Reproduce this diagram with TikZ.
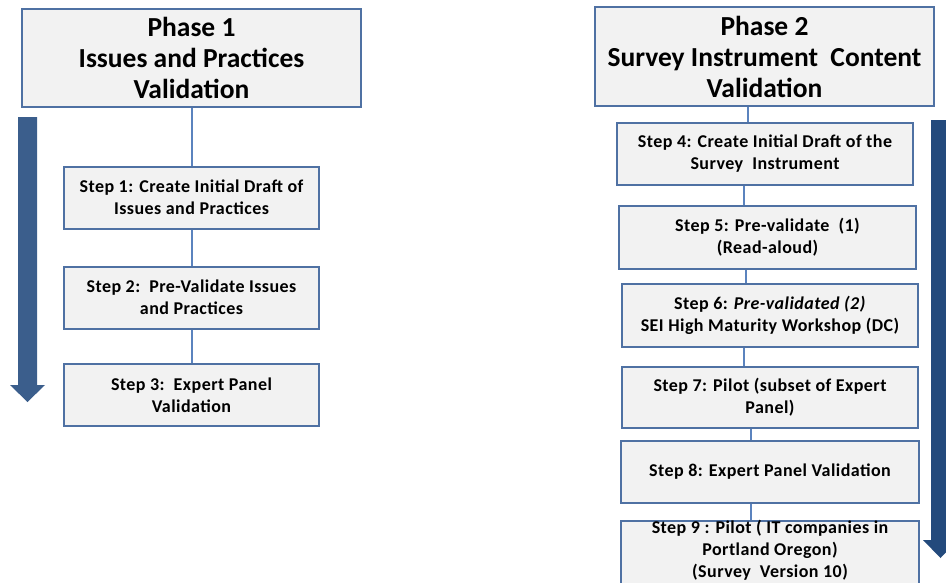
\documentclass[tikz,border=0pt]{standalone}
\usepackage{fontspec}
\setmainfont{Carlito}
\newfontfamily\stepfont[LetterSpace=2.5]{Carlito}
\begin{document}
\begin{tikzpicture}[x=1pt,y=-1pt,
  framecol/.style={draw=boxedge,line width=2pt,fill=boxfill},
  phasebox/.style={framecol,minimum width=339pt,minimum height=98pt,
    align=center,inner sep=0pt,
    font=\fontsize{27.5}{31}\selectfont\bfseries},
  steptext/.style={align=center,inner sep=0pt,
    font=\fontsize{18}{22}\selectfont\bfseries\stepfont},
  stepbox/.style={framecol,minimum height=62pt,steptext},
  link/.style={draw=linkcol,line width=2pt}]
\definecolor{boxedge}{HTML}{4F71A3}
\definecolor{boxfill}{HTML}{F2F2F2}
\definecolor{linkcol}{HTML}{5B83BE}
\definecolor{arrowA}{HTML}{3B5E8C}
\definecolor{arrowB}{HTML}{234A7C}
\useasboundingbox (0,0) rectangle (946,582);
\clip (0,0) rectangle (946,582);

% Phase 1 column
\node[phasebox] (p1) at (191.5,58) {Phase 1\\Issues and Practices\\Validation};
\node[stepbox,minimum width=255pt] (s1) at (191.5,197.5)
  {Step 1: Create Initial Draft of\\Issues and Practices};
\node[stepbox,minimum width=255pt] (s2) at (191.5,297.5)
  {Step 2:\ \ Pre-Validate Issues\\and Practices};
\node[stepbox,minimum width=255pt] (s3) at (191.5,395)
  {Step 3:\ \ Expert Panel\\Validation};
\draw[link] (p1.south) -- (s1.north);
\draw[link] (s1.south) -- (s2.north);
\draw[link] (s2.south) -- (s3.north);

% Phase 1 progress arrow
\fill[arrowA] (18,117) -- (37,117) -- (37,385) -- (45,385) -- (27.5,402)
  -- (10,385) -- (18,385) -- cycle;

% Phase 2 column
\node[phasebox,minimum height=99pt] (p2) at (764.5,56.5)
  {Phase 2\\Survey Instrument\ \ Content\\Validation};
\node[stepbox,minimum width=296pt] (s4) at (765,154)
  {Step 4: Create Initial Draft of the\\Survey\ \ Instrument};
\node[stepbox,minimum width=297pt,minimum height=63pt] (s5) at (767.5,237.5)
  {Step 5: Pre-validate\ \ (1)\\(Read-aloud)};
\node[stepbox,minimum width=296pt,minimum height=63pt] (s6) at (770,315.5)
  {Step 6: \textit{Pre-validated (2)}\\SEI High Maturity Workshop (DC)};
\node[stepbox,minimum width=296pt,minimum height=61pt] (s7) at (770,397.5)
  {Step 7: Pilot (subset of Expert\\Panel)};
\node[stepbox,minimum width=298pt] (s8) at (770,472)
  {Step 8: Expert Panel Validation};
% last box runs past the lower edge; its text sits high in it
\node[stepbox,minimum width=298pt,minimum height=64pt] (s9) at (770,553) {};
\node[steptext] (s9t) at ([yshift=3pt]s9.center)
  {Step 9 : Pilot ( IT companies in\\Portland Oregon)\\(Survey\ \ Version 10)};

% vertical spine positions of the phase 2 connectors
\coordinate (ka) at (748,0);
\coordinate (kb) at (744,0);
\coordinate (kc) at (746,0);
\coordinate (kd) at (751,0);
\draw[link] (p2.south -| ka) -- (s4.north -| ka);
\draw[link] (s4.south -| kb) -- (s5.north -| kb);
\draw[link] (s5.south -| kc) -- (s6.north -| kc);
\draw[link] (s6.south -| kb) -- (s7.north -| kb);
\draw[link] (s7.south -| kd) -- (s8.north -| kd);
\draw[link] (s8.south -| kd) -- (s9.north -| kd);

% Phase 2 progress arrow
\fill[arrowB] (931,120) -- (950,120) -- (950,540) -- (958,540) -- (940.5,558)
  -- (923,540) -- (931,540) -- cycle;
\end{tikzpicture}
\end{document}
